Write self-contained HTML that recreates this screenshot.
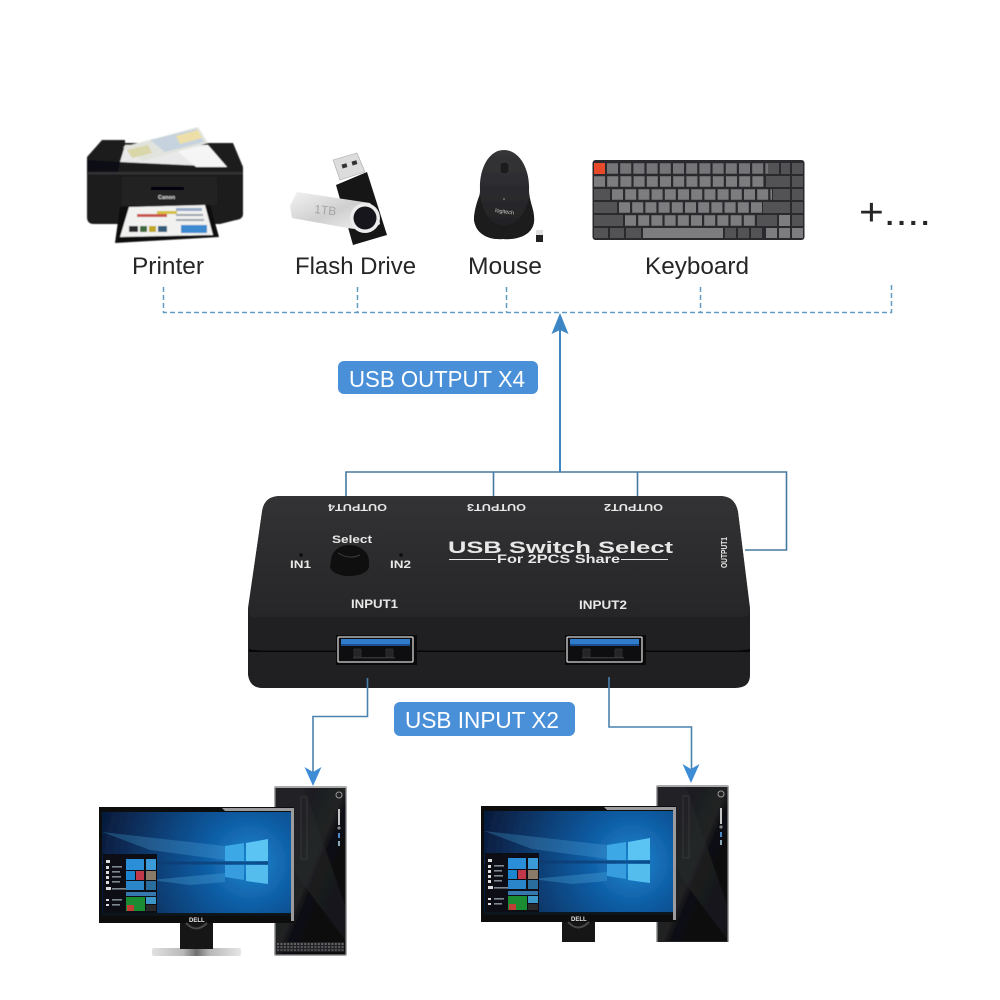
<!DOCTYPE html>
<html><head><meta charset="utf-8"><style>
html,body{margin:0;padding:0;background:#fff}
svg{display:block}
text{font-family:"Liberation Sans",sans-serif}
</style></head><body>
<svg width="1000" height="1000" viewBox="0 0 1000 1000" xmlns="http://www.w3.org/2000/svg">
<defs>
<filter id="soft" x="-5%" y="-5%" width="110%" height="110%"><feGaussianBlur stdDeviation=".55"/></filter>
<filter id="soft2" x="-5%" y="-5%" width="110%" height="110%"><feGaussianBlur stdDeviation=".3"/></filter>
<linearGradient id="top" x1="0" y1="0" x2="0" y2="1"><stop offset="0" stop-color="#333335"/><stop offset=".5" stop-color="#2c2c2e"/><stop offset="1" stop-color="#262628"/></linearGradient>
<linearGradient id="tw" x1="0" y1="0" x2="1" y2="1"><stop offset="0" stop-color="#1c1c1f"/><stop offset=".5" stop-color="#202124"/><stop offset=".55" stop-color="#101013"/><stop offset="1" stop-color="#08080a"/></linearGradient>
<radialGradient id="scr" gradientUnits="userSpaceOnUse" cx="250" cy="862" r="155"><stop offset="0" stop-color="#1a86d0"/><stop offset=".3" stop-color="#0f5ca3"/><stop offset=".7" stop-color="#0a3566"/><stop offset="1" stop-color="#061a3a"/></radialGradient>
<linearGradient id="mouse" x1="0" y1="0" x2="0" y2="1"><stop offset="0" stop-color="#353538"/><stop offset="1" stop-color="#1f1f21"/></linearGradient>
<linearGradient id="metal" x1="0" y1="0" x2="1" y2="1"><stop offset="0" stop-color="#f2f2f2"/><stop offset=".5" stop-color="#cfcfcf"/><stop offset="1" stop-color="#f8f8f8"/></linearGradient>
<linearGradient id="base" x1="0" y1="0" x2="1" y2="0"><stop offset="0" stop-color="#e2e2e2"/><stop offset=".35" stop-color="#b8b8b8"/><stop offset=".5" stop-color="#6f6f6f"/><stop offset=".65" stop-color="#b8b8b8"/><stop offset="1" stop-color="#e6e6e6"/></linearGradient>
<g id="tower">
<rect x="274" y="786" width="73" height="170" rx="2" fill="#a9a9ab"/>
<rect x="275.500" y="788" width="70" height="166.500" fill="url(#tw)"/>
<polygon points="276,788 304,788 345,905 345,940 300,880 276,830" fill="#2b2c30" opacity=".4"/>
<rect x="301" y="797" width="6" height="62" fill="none" stroke="#39393b" stroke-width=".8"/>
<circle cx="339" cy="795" r="3" fill="none" stroke="#999" stroke-width="1"/>
<rect x="338" y="809" width="2" height="16" fill="#c4c4c4"/>
<circle cx="339" cy="828" r="1.600" fill="#888"/><rect x="338" y="833" width="2" height="5" fill="#4d88c8"/><rect x="338" y="841" width="2" height="5" fill="#8da9b8"/>
<rect x="277" y="942" width="67" height="10" fill="#232325"/>
<line x1="277" y1="944" x2="344" y2="944" stroke="#a5a5a5" stroke-width="1.100" stroke-dasharray="2 1.400"/>
<line x1="277" y1="947" x2="344" y2="947" stroke="#909090" stroke-width="1.100" stroke-dasharray="2 1.400"/>
<line x1="277" y1="950" x2="344" y2="950" stroke="#808080" stroke-width="1.100" stroke-dasharray="2 1.400"/>
</g>
<g id="monitor">
<rect x="99" y="807" width="195" height="116" fill="#0b0b0c"/>
<polygon points="222,808 294,808 294,921 291,921 291,811 225,811" fill="#9c9c9e"/>
<rect x="102" y="812" width="189" height="103" fill="url(#scr)"/>
<polygon points="102,832 225,846 225,860 150,850" fill="#58aee0" opacity=".28"/>
<polygon points="150,880 225,873 225,882 190,885" fill="#58aee0" opacity=".3"/>
<polygon points="225,846 244,843 244,861 225,861" fill="#3ea8e6"/>
<polygon points="246,843 268,839 268,861 246,861" fill="#5cc4f2"/>
<polygon points="225,865 244,865 244,880 225,877" fill="#379dde"/>
<polygon points="246,865 268,865 268,884 246,881" fill="#55bcee"/>
<rect x="102" y="861.500" width="166" height="3" fill="#0a3a70" opacity=".7"/>
<rect x="103" y="854" width="54" height="59" fill="#0d1014"/>
<g fill="#dcdcdc"><rect x="106" y="860" width="4" height="3"/><rect x="106" y="866" width="3" height="3"/><rect x="106" y="871" width="3" height="3"/><rect x="106" y="876" width="3" height="3"/><rect x="106" y="881" width="3" height="3"/><rect x="106" y="887" width="5" height="3"/><rect x="106" y="899" width="3" height="2"/><rect x="106" y="904" width="3" height="2"/></g>
<g fill="#7f8890"><rect x="112" y="866" width="10" height="1.600"/><rect x="112" y="871" width="8" height="1.600"/><rect x="112" y="876" width="9" height="1.600"/><rect x="112" y="881" width="8" height="1.600"/><rect x="112" y="888" width="20" height="1.600"/><rect x="112" y="899" width="10" height="1.600"/><rect x="112" y="904" width="8" height="1.600"/></g>
<rect x="126" y="859" width="18" height="11" fill="#2c8fd8"/><rect x="146" y="859" width="10" height="11" fill="#3b9ad8"/>
<rect x="126" y="871" width="9" height="9" fill="#1f85d0"/><rect x="136" y="871" width="8" height="9" fill="#c03848"/><rect x="146" y="871" width="10" height="9" fill="#8a7a68"/>
<rect x="126" y="881" width="18" height="9" fill="#2c86c8"/><rect x="146" y="881" width="10" height="9" fill="#2a6e9e"/>
<rect x="126" y="892" width="30" height="4" fill="#3478b0"/>
<rect x="126" y="897" width="19" height="14" fill="#1e8c30"/><rect x="146" y="897" width="10" height="7" fill="#3a98c8"/><rect x="127" y="905" width="7" height="6" fill="#c04038"/><rect x="146" y="905" width="10" height="6" fill="#2b2b2b"/>
<rect x="102" y="913" width="189" height="2.500" fill="#10161e"/>
<rect x="180" y="923" width="33" height="26" fill="#141416"/>
<path d="M186 923Q196 934 207 923" fill="none" stroke="#4a4a4c" stroke-width="2"/>
</g>
</defs>

<!-- printer -->
<g filter="url(#soft)">
<path d="M87 157L102 140H125V143H233L243 167V214Q243 219 236 220L220 224H94Q87 224 87 217Z" fill="#1b1b1e"/>
<polygon points="87,160 120,162 118,172 87,172" fill="#101012"/>
<polygon points="120,162 125,145 208,145 227,167" fill="#e9e9e9"/>
<polygon points="176,150 208,145 227,167 196,167" fill="#f5f5f5"/>
<polygon points="123,147 198,127 208,143 143,161" fill="#e1e4dd"/>
<polygon points="150,140 196,129 204,142 165,152" fill="#c6d3df"/>
<polygon points="127,150 148,145 152,153 132,158" fill="#d9d6a8"/>
<polygon points="176,136 198,130 202,138 180,144" fill="#eedfa8"/>
<rect x="88" y="172" width="155" height="2.500" fill="#313135"/>
<rect x="122" y="177" width="95" height="28" fill="#212124"/>
<rect x="151" y="187" width="33" height="3" fill="#060607"/>
<text x="158" y="199" font-size="5.500" font-weight="bold" fill="#d8d8d8">Canon</text>
<polygon points="120,207 210,205 219,237 115,243" fill="#0c0c0e"/>
<polygon points="129,207 205,205 213,235 120,237" fill="#f1f1f0"/>
<rect x="137" y="214" width="30" height="3" fill="#c9564c"/>
<rect x="157" y="211" width="20" height="3" fill="#d6c03a"/>
<rect x="129" y="226" width="9" height="6" fill="#2a2a2a"/>
<rect x="140" y="226" width="7" height="6" fill="#3f6a3a"/>
<rect x="149" y="226" width="7" height="6" fill="#c0a824"/>
<rect x="158" y="226" width="9" height="6" fill="#345b7a"/>
<rect x="181" y="225" width="26" height="8" fill="#3e8ad0"/>
<rect x="176" y="208" width="26" height="3" fill="#95aac8"/>
<rect x="176" y="214" width="27" height="2" fill="#9aa4ad"/>
<rect x="176" y="219" width="28" height="2" fill="#9aa4ad"/>
</g>

<!-- flash drive -->
<g filter="url(#soft2)">
<polygon points="333,160 357,153 365,172 340,180" fill="#dcdcdc" stroke="#a8a8a8" stroke-width=".6"/>
<rect x="342" y="164" width="5" height="4" fill="#333" transform="rotate(-17 344 166)"/><rect x="352" y="161" width="5" height="4" fill="#333" transform="rotate(-17 354 163)"/>
<polygon points="336,185 367,172 387,235 353,245" fill="#161618"/>
<polygon points="297,192 370,203 378,212 380,224 370,231 347,228 292,218 290,206" fill="url(#metal)"/>
<circle cx="365" cy="218" r="15" fill="#ececec"/>
<circle cx="365" cy="218" r="11.500" fill="#19191b"/>
<text x="314" y="213" font-size="12" fill="#a5a5a5" transform="rotate(6 314 213)">1TB</text>
</g>

<!-- mouse -->
<g filter="url(#soft2)">
<path d="M504 150C520 150 530 170 529 190C529 200 535 212 534 222C532 236 516 240 503 239C488 240 476 234 474 220C474 208 480 200 480 190C479 170 488 150 504 150Z" fill="url(#mouse)"/>
<path d="M480 194C476 204 474 212 474 220C476 234 488 240 503 239C516 240 532 236 534 222C535 212 531 204 529 198C525 216 515 226 503 225C490 225 482 212 480 194Z" fill="#1b1b1d"/>
<rect x="500" y="162" width="9" height="12" rx="3" fill="#1d1d1f" stroke="#414143" stroke-width=".7"/>
<circle cx="504" cy="199" r="1" fill="#777"/>
<text x="495" y="212" font-size="5.500" fill="#cfcfcf" transform="rotate(8 495 212)">logitech</text>
<rect x="536" y="230" width="7" height="5" fill="#e0e0e0"/><rect x="536" y="235" width="7" height="7" fill="#222"/>
</g>

<!-- keyboard -->
<g filter="url(#soft2)">
<rect x="592.500" y="160" width="212" height="80" rx="3" fill="#2c2c2e"/>
<g fill="none" stroke-width="10.400" stroke="#757578">
<line x1="607" y1="168.500" x2="768" y2="168.500" stroke-dasharray="11 2.200"/>
<line x1="594" y1="181.500" x2="765" y2="181.500" stroke-dasharray="11 2.200" stroke="#7d7d80"/>
<line x1="612" y1="194.500" x2="772" y2="194.500" stroke-dasharray="11 2.200" stroke="#7d7d80"/>
<line x1="619" y1="207.500" x2="762" y2="207.500" stroke-dasharray="11 2.200" stroke="#7d7d80"/>
<line x1="625" y1="220.500" x2="756" y2="220.500" stroke-dasharray="11 2.200" stroke="#7d7d80"/>
</g>
<g fill="#535356">
<rect x="594" y="163" width="11" height="11" fill="#e8492c"/>
<rect x="768" y="163" width="11" height="11"/><rect x="781" y="163" width="9" height="11"/><rect x="792" y="163" width="11" height="11"/>
<rect x="766" y="176" width="24" height="11"/><rect x="792" y="176" width="11" height="11"/>
<rect x="594" y="189" width="16" height="11"/><rect x="773" y="189" width="17" height="11"/><rect x="792" y="189" width="11" height="11"/>
<rect x="594" y="202" width="23" height="11"/><rect x="763" y="202" width="27" height="11"/><rect x="792" y="202" width="11" height="11"/>
<rect x="594" y="215" width="29" height="11"/><rect x="757" y="215" width="20" height="11"/><rect x="792" y="215" width="11" height="11"/>
<rect x="779" y="215" width="11" height="11" fill="#7d7d80"/>
<rect x="594" y="228" width="14" height="10"/><rect x="610" y="228" width="14" height="10"/><rect x="626" y="228" width="15" height="10"/>
<rect x="643" y="228" width="80" height="10" fill="#7d7d80"/>
<rect x="725" y="228" width="11" height="10"/><rect x="738" y="228" width="11" height="10"/><rect x="751" y="228" width="11" height="10"/>
<rect x="766" y="228" width="11" height="10" fill="#7d7d80"/><rect x="779" y="228" width="11" height="10" fill="#7d7d80"/><rect x="792" y="228" width="11" height="10" fill="#7d7d80"/>
</g>
</g>

<!-- labels -->
<g font-size="24.500" fill="#262626">
<text x="132" y="274" textLength="72" lengthAdjust="spacingAndGlyphs">Printer</text>
<text x="295" y="274" textLength="121" lengthAdjust="spacingAndGlyphs">Flash Drive</text>
<text x="468" y="274" textLength="74" lengthAdjust="spacingAndGlyphs">Mouse</text>
<text x="645" y="274" textLength="104" lengthAdjust="spacingAndGlyphs">Keyboard</text>
</g>
<text x="859" y="225" font-size="38" fill="#262626" textLength="72" lengthAdjust="spacingAndGlyphs">+....</text>

<!-- dashed bus -->
<path d="M163.500 287V312.500H891.500V285M357.500 287V312M506.500 287V312M700.500 287V312" fill="none" stroke="#629cc2" stroke-width="1.500" stroke-dasharray="5 3"/>

<!-- output arrow -->
<line x1="560" y1="330" x2="560" y2="472" stroke="#3d86c4" stroke-width="2"/>
<polygon points="560,313 568.500,334 560,330 551.500,334" fill="#3d86c4"/>
<rect x="338" y="361" width="200" height="33" rx="6" fill="#4a90d9"/>
<text x="349" y="387" font-size="23.500" fill="#fff" textLength="176" lengthAdjust="spacingAndGlyphs">USB OUTPUT X4</text>

<!-- output connectors -->
<path d="M346 498V472H786.500V550H745M493.500 472V498M637.500 472V498" fill="none" stroke="#46799e" stroke-width="1.600"/>

<!-- device -->
<path d="M248 620L248 610L262 512Q264 496 280 496H720Q735 496 738 512L750 610V675Q750 688 735 688H262Q250 688 248 675Z" fill="#202022"/>
<path d="M248 608L262 512Q264 496 280 496H720Q735 496 738 512L750 608Q750 617 742 617H256Q248 617 248 608Z" fill="url(#top)"/>
<path d="M249 649Q252 650 262 650.500H738Q746 650 750 649V652H249Z" fill="#060607"/>

<g fill="#e8e8e8" font-weight="bold" filter="url(#soft2)">
<text transform="rotate(180 358 504)" x="329" y="504" font-size="10" textLength="59" lengthAdjust="spacingAndGlyphs">OUTPUT4</text>
<text transform="rotate(180 496 504)" x="466" y="504" font-size="10" textLength="59" lengthAdjust="spacingAndGlyphs">OUTPUT3</text>
<text transform="rotate(180 633 504)" x="603" y="504" font-size="10" textLength="59" lengthAdjust="spacingAndGlyphs">OUTPUT2</text>
<text transform="rotate(-90 727 568)" x="727" y="568" font-size="8.500" textLength="31" lengthAdjust="spacingAndGlyphs">OUTPUT1</text>
<text x="332" y="543" font-size="11" textLength="40" lengthAdjust="spacingAndGlyphs">Select</text>
<text x="290" y="568" font-size="11" textLength="21" lengthAdjust="spacingAndGlyphs">IN1</text>
<text x="390" y="568" font-size="11" textLength="21" lengthAdjust="spacingAndGlyphs">IN2</text>
<text x="351" y="608" font-size="11.500" textLength="47" lengthAdjust="spacingAndGlyphs">INPUT1</text>
<text x="579" y="609" font-size="11.500" textLength="48" lengthAdjust="spacingAndGlyphs">INPUT2</text>
<text x="448" y="553" font-size="17" textLength="225" lengthAdjust="spacingAndGlyphs">USB Switch Select</text>
<text x="497" y="563" font-size="11.500" textLength="123" lengthAdjust="spacingAndGlyphs">For 2PCS Share</text>
</g>
<path d="M449 559.500H496M621 559.500H668" stroke="#e8e8e8" stroke-width="1"/>
<circle cx="301" cy="555" r="1.800" fill="#0c0c0c"/><circle cx="401" cy="555" r="1.800" fill="#0c0c0c"/>
<path d="M331 561C331 552 339 545 349 545C360 545 369 552 369 561V566C369 572 360 576 349 576C339 576 330 572 330 566Z" fill="#0f0f10"/>
<path d="M338 553Q349 560 360 555" fill="none" stroke="#3d3d3f" stroke-width="1"/>

<!-- ports -->
<g>
<rect x="336" y="635" width="81" height="30" fill="#0a0a0b"/>
<rect x="338" y="637" width="75" height="25" rx="1" fill="#0e0e10" stroke="#d6d6d6" stroke-width="1.300"/>
<rect x="341" y="639" width="69" height="7" fill="#2f7ccc"/>
<rect x="341" y="644" width="69" height="2" fill="#1b4f8e"/>
<rect x="354" y="649" width="7" height="8" fill="#242426" stroke="#3a3a3c" stroke-width=".6"/><rect x="386" y="649" width="7" height="8" fill="#242426" stroke="#3a3a3c" stroke-width=".6"/>
<rect x="353" y="657" width="42" height="1.500" fill="#333"/>
</g>
<g transform="translate(229 0)">
<rect x="336" y="635" width="81" height="30" fill="#0a0a0b"/>
<rect x="338" y="637" width="75" height="25" rx="1" fill="#0e0e10" stroke="#d6d6d6" stroke-width="1.300"/>
<rect x="341" y="639" width="69" height="7" fill="#2f7ccc"/>
<rect x="341" y="644" width="69" height="2" fill="#1b4f8e"/>
<rect x="354" y="649" width="7" height="8" fill="#242426" stroke="#3a3a3c" stroke-width=".6"/><rect x="386" y="649" width="7" height="8" fill="#242426" stroke="#3a3a3c" stroke-width=".6"/>
<rect x="353" y="657" width="42" height="1.500" fill="#333"/>
</g>

<!-- input connectors -->
<path d="M367.500 678V716.500H313V772" fill="none" stroke="#4a82ae" stroke-width="1.600"/>
<path d="M609 677V727H691.500V770" fill="none" stroke="#4a82ae" stroke-width="1.600"/>
<polygon points="313,786 304.500,767 313,772 321.500,767" fill="#3f8cd6"/>
<polygon points="691,783 682.500,764 691,769 699.500,764" fill="#3f8cd6"/>
<rect x="394" y="702" width="181" height="34" rx="6" fill="#4a90d9"/>
<text x="405" y="728" font-size="23.500" fill="#fff" textLength="154" lengthAdjust="spacingAndGlyphs">USB INPUT X2</text>

<!-- computer 1 -->
<g filter="url(#soft2)">
<use href="#tower"/>
<rect x="152" y="948" width="89" height="8" rx="2" fill="url(#base)"/>
<use href="#monitor"/>
<text x="189" y="922" font-size="6" font-weight="bold" fill="#e8e8e8">DELL</text>
</g>

<!-- computer 2 -->
<g transform="translate(382 -1)" filter="url(#soft2)">
<use href="#tower"/>
<use href="#monitor"/>
<text x="189" y="922" font-size="6" font-weight="bold" fill="#e8e8e8">DELL</text>
</g>
<rect x="500" y="942" width="260" height="30" fill="#fff"/>
</svg>
</body></html>
